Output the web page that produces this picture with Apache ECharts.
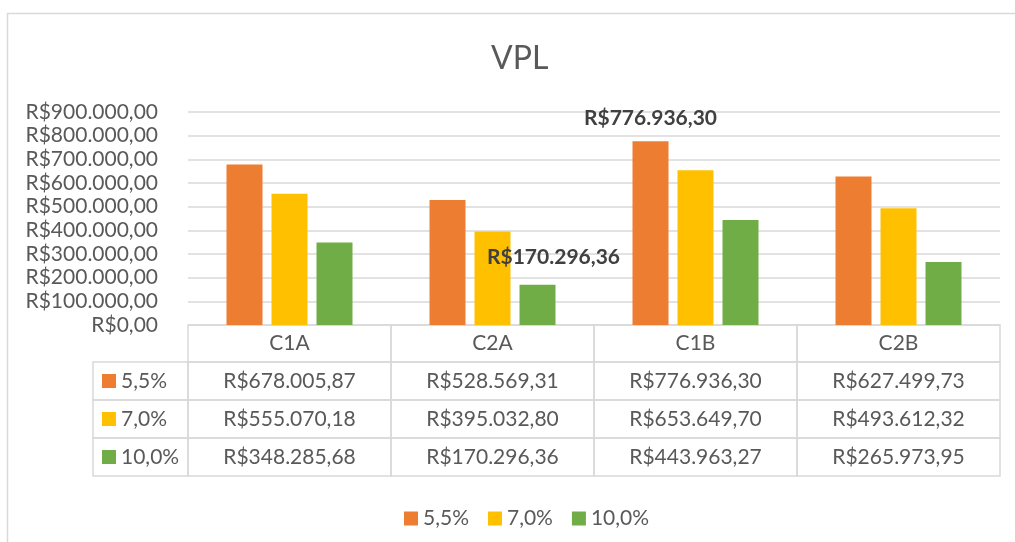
<!DOCTYPE html>
<html>
<head>
<meta charset="utf-8">
<script src="https://cdn.jsdelivr.net/npm/echarts@6/dist/echarts.min.js"></script>
<style>
html, body { margin: 0; padding: 0; background: #fff; }
#chart { width: 1015px; height: 542px; }
</style>
</head>
<body>
<div id="chart"></div>
<script>
// dados do gráfico
const categories = ['C1A', 'C2A', 'C1B', 'C2B']
const rates = ['5,5%', '7,0%', '10,0%']
const values55 = [678005.87, 528569.31, 776936.30, 627499.73]
const values70 = [555070.18, 395032.80, 653649.70, 493612.32]
const values100 = [348285.68, 170296.36, 443963.27, 265973.95]
const yMin = 0
const yMax = 900000
const yInterval = 100000
// [serie, categoria] com rótulo visível
const labelled = [[0, 2], [2, 1]]

const seriesValues = [values55, values70, values100]
const colors = ['#ED7D31', '#FFC000', '#70AD47']
const FONT = 'Lato'
const FS = 21
const TXT = '#595959'
const LINE = '#d9d9d9'

// formato R$ 1.234,56
function brl(v) {
  const parts = Number(v).toFixed(2).split('.')
  return 'R$' + parts[0].replace(/\B(?=(\d{3})+(?!\d))/g, '.') + ',' + parts[1]
}

const W = 1015
const H = 542
const gridLeft = 188
const gridRight = 15
const gridTop = 112
const gridBottom = 217
const plotBottom = H - gridBottom
const plotW = W - gridLeft - gridRight
const colW = plotW / categories.length
const headH = 37
const rowH = 38
const keyColLeft = 93

const chart = echarts.init(document.getElementById('chart'))

// tabela de dados (feita com graphic)
const graphics = [
  { type: 'rect', shape: { x: 7.5, y: 13.5, width: 1100, height: 700 }, style: { fill: 'none', stroke: LINE, lineWidth: 1.5 }, silent: true }
]
categories.forEach((c, i) => {
  const x = gridLeft + i * colW
  graphics.push({ type: 'rect', shape: { x: x, y: plotBottom, width: colW, height: headH }, style: { fill: 'none', stroke: LINE, lineWidth: 1.5 }, silent: true })
  graphics.push({ type: 'text', x: x + colW / 2, y: plotBottom + headH / 2, style: { text: c, align: 'center', verticalAlign: 'middle', fill: TXT, font: FS + 'px ' + FONT }, silent: true })
})
rates.forEach((r, s) => {
  const y = plotBottom + headH + s * rowH
  graphics.push({ type: 'rect', shape: { x: keyColLeft, y: y, width: gridLeft - keyColLeft, height: rowH }, style: { fill: 'none', stroke: LINE, lineWidth: 1.5 }, silent: true })
  graphics.push({ type: 'rect', shape: { x: keyColLeft + 9, y: y + rowH / 2 - 7, width: 14, height: 14 }, style: { fill: colors[s] }, silent: true })
  graphics.push({ type: 'text', x: keyColLeft + 28, y: y + rowH / 2, style: { text: r, align: 'left', verticalAlign: 'middle', fill: TXT, font: FS + 'px ' + FONT }, silent: true })
  seriesValues[s].forEach((v, i) => {
    const x = gridLeft + i * colW
    graphics.push({ type: 'rect', shape: { x: x, y: y, width: colW, height: rowH }, style: { fill: 'none', stroke: LINE, lineWidth: 1.5 }, silent: true })
    graphics.push({ type: 'text', x: x + colW / 2, y: y + rowH / 2, style: { text: brl(v), align: 'center', verticalAlign: 'middle', fill: TXT, font: FS + 'px ' + FONT }, silent: true })
  })
})

const labelOffsets = { '0-2': [0, 0], '2-1': [16, -5] }

const series = rates.map((name, s) => ({
  name: name,
  type: 'bar',
  barWidth: 36,
  barGap: '25%',
  itemStyle: { color: colors[s] },
  data: seriesValues[s].map((v, i) => {
    const hit = labelled.some(p => p[0] === s && p[1] === i)
    if (!hit) return v
    return {
      value: v,
      label: {
        show: true,
        position: 'top',
        distance: 12,
        offset: labelOffsets[s + '-' + i],
        formatter: p => brl(p.value),
        color: '#404040',
        fontWeight: 'bold',
        fontSize: FS,
        fontFamily: FONT
      }
    }
  })
}))

const option = {
  animation: false,
  backgroundColor: '#fff',
  title: {
    text: 'VPL',
    left: 486,
    top: 38,
    textStyle: { color: TXT, fontSize: 32, fontWeight: 'normal', fontFamily: FONT }
  },
  legend: {
    data: rates,
    left: 399,
    top: 503,
    icon: 'rect',
    itemWidth: 14,
    itemHeight: 14,
    itemGap: 19,
    textStyle: { color: TXT, fontSize: FS, fontFamily: FONT }
  },
  grid: { left: gridLeft, right: gridRight, top: gridTop, bottom: gridBottom, containLabel: false },
  xAxis: {
    type: 'category',
    data: categories,
    axisLine: { show: false },
    axisTick: { show: false },
    axisLabel: { show: false }
  },
  yAxis: {
    type: 'value',
    min: yMin,
    max: yMax,
    interval: yInterval,
    axisLine: { show: false },
    axisTick: { show: false },
    splitLine: { lineStyle: { color: LINE, width: 1.5 } },
    axisLabel: {
      color: TXT,
      fontSize: FS,
      fontFamily: FONT,
      margin: 30,
      formatter: v => brl(v)
    }
  },
  graphic: graphics,
  series: series
}
chart.setOption(option)
</script>
</body>
</html>
